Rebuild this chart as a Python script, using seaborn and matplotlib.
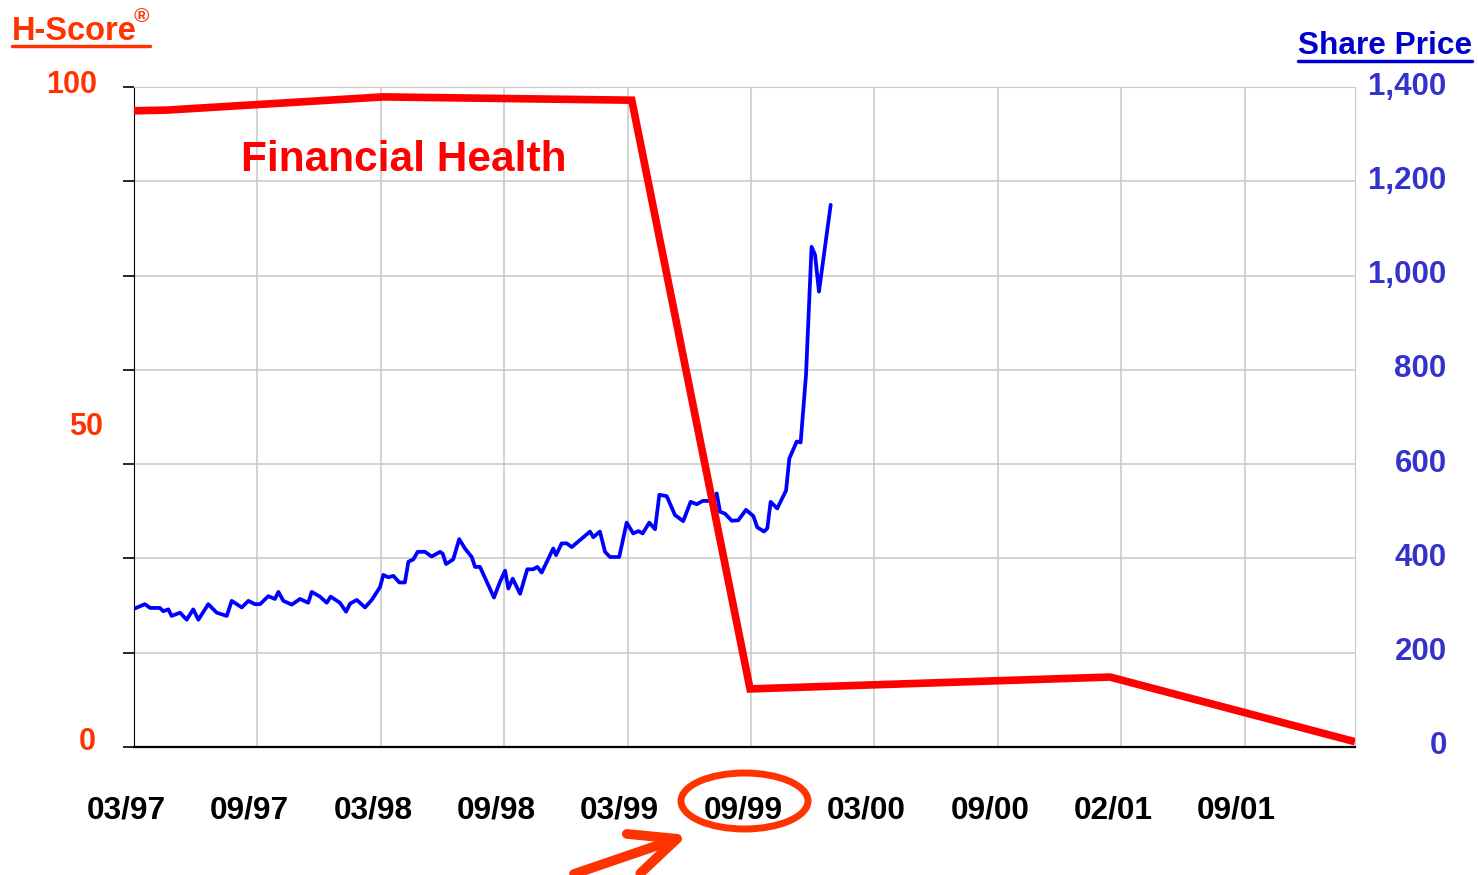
import matplotlib
matplotlib.use("Agg")
import matplotlib.pyplot as plt
import matplotlib.transforms as mtransforms
from matplotlib.patches import Ellipse, ArrowStyle
from matplotlib.lines import Line2D
import pandas as pd
import seaborn as sns

# x positions are months since 03/97 (chart axis is evenly spaced)
price_months = [
    0.05, 0.53, 0.78, 1.26, 1.42, 1.67, 1.83, 2.24, 2.56, 2.88, 3.13, 3.61, 4.02, 4.51,
    4.75, 5.24, 5.56, 5.88, 6.13, 6.53, 6.85, 7.02, 7.26, 7.67, 8.07, 8.47, 8.64, 9.04,
    9.37, 9.56, 10.01, 10.31, 10.50, 10.83, 11.23, 11.56, 11.96, 12.12, 12.36, 12.61,
    12.90, 13.17, 13.34, 13.58, 13.79, 14.15, 14.47, 14.88, 15.01, 15.17, 15.52, 15.81,
    16.09, 16.42, 16.58, 16.82, 17.22, 17.50, 17.79, 18.04, 18.20, 18.41, 18.77, 19.12,
    19.41, 19.61, 19.82, 20.38, 20.52, 20.79, 21.04, 21.28, 22.17, 22.33, 22.65, 22.90,
    23.14, 23.59, 23.95, 24.27, 24.52, 24.73, 25.05, 25.33, 25.54, 25.90, 26.30, 26.70,
    27.06, 27.36, 27.65, 28.16, 28.33, 28.49, 28.73, 29.06, 29.38, 29.75, 30.11, 30.30,
    30.63, 30.79, 30.95, 31.27, 31.70, 31.86, 32.22, 32.41, 32.67, 32.94, 33.11, 33.30,
    33.87,
]
price_values = [
    294, 303, 295, 295, 288, 292, 278, 285, 270, 292, 270, 303, 285, 278,
    310, 296, 310, 303, 303, 320, 314, 329, 310, 302, 314, 306, 329, 319,
    306, 319, 306, 287, 304, 312, 296, 312, 339, 365, 360, 363,
    349, 349, 393, 398, 414, 414, 404, 414, 410, 388, 398, 441,
    421, 403, 382, 382, 344, 317, 350, 374, 336, 357, 325, 377,
    377, 382, 370, 421, 407, 432, 432, 424, 457, 445, 457, 414,
    403, 403, 476, 453, 458, 453, 476, 462, 535, 532, 492, 479,
    520, 515, 522, 522, 538, 499, 495, 480, 481, 503, 490, 466,
    457, 464, 520, 506, 544, 612, 648, 646, 789, 1061, 1044, 966,
    1150,
]

hscore_months = [0.0, 1.6, 12.1, 24.2, 29.95, 47.45, 59.36]
hscore_values = [96.4, 96.5, 98.5, 98.0, 8.8, 10.6, 0.8]

date_ticks = [0, 6, 12, 18, 24, 30, 36, 42, 48, 54]
date_labels = ["03/97", "09/97", "03/98", "09/98", "03/99",
               "09/99", "03/00", "09/00", "02/01", "09/01"]
minor_date_ticks = [3, 9, 15, 21, 27, 33, 39, 45, 51, 57]

price_ticks = [0, 200, 400, 600, 800, 1000, 1200, 1400]
price_labels = ["0", "200", "400", "600", "800", "1,000", "1,200", "1,400"]
hscore_labels = ["100", "50", "0"]
hscore_label_pos = [100.3, 48.5, 0.8]
hscore_label_right = [97, 103, 96]  # right edge of each label, px

price_df = pd.DataFrame({"month": price_months, "price": price_values})
hscore_df = pd.DataFrame({"month": hscore_months, "hscore": hscore_values})

sns.set_style("white")
plt.rcParams["font.family"] = ["Liberation Sans", "DejaVu Sans"]
plt.rcParams["font.weight"] = "bold"

ORANGE = "#FF3300"
LABEL_BLUE = "#3333CC"
GRID = "#C8C8C8"

fig = plt.figure(figsize=(14.78, 8.75), dpi=100)
ax = fig.add_axes([134 / 1478, 1 - 747 / 875, (1355 - 134) / 1478, (747 - 87) / 875])
ax2 = ax.twinx()

# share price (drawn first, below the H-score line)
sns.lineplot(data=price_df, x="month", y="price", ax=ax, color="#0000FF",
             linewidth=2.7, estimator=None, sort=False)
ax.set_xlim(0, 59.36)
ax.set_ylim(0, 1400)
ax.yaxis.tick_right()
ax.set_yticks(price_ticks)
ax.set_yticklabels(price_labels, fontsize=22.5, color=LABEL_BLUE, fontweight="bold", ha="right")
ax.tick_params(axis="y", length=0, pad=66)
up = mtransforms.ScaledTranslation(0, 4 / 100, fig.dpi_scale_trans)
for lab in ax.get_yticklabels():
    lab.set_transform(lab.get_transform() + up)

ax.set_xticks(date_ticks)
ax.set_xticks(minor_date_ticks, minor=True)
ax.set_xticklabels(date_labels, fontsize=22.8, fontweight="bold", color="black")
ax.tick_params(axis="x", which="major", direction="out", length=11, width=1.2, pad=24, color="black")
ax.tick_params(axis="x", which="minor", direction="out", length=8, width=1.2, color="black")
left = mtransforms.ScaledTranslation(-8 / 100, 0, fig.dpi_scale_trans)
for lab in ax.get_xticklabels():
    lab.set_transform(lab.get_transform() + left)

ax.grid(True, which="major", color=GRID, linewidth=1.1)
ax.set_xlabel("")
ax.set_ylabel("")
ax.spines["left"].set_color("black")
ax.spines["bottom"].set_color("black")
ax.spines["bottom"].set_linewidth(1.6)
ax.spines["top"].set_color(GRID)
ax.spines["right"].set_color(GRID)

# H-Score line on top
sns.lineplot(data=hscore_df, x="month", y="hscore", ax=ax2,
             color="#FF0000", linewidth=5.5, estimator=None, sort=False,
             solid_capstyle="butt", solid_joinstyle="miter")
ax2.set_ylim(0, 100)
ax2.yaxis.tick_left()
ax2.set_yticks([v / 14 for v in price_ticks])
ax2.set_yticklabels([])
ax2.tick_params(axis="y", direction="out", length=8, width=1.2, color="black")
ax2.set_ylabel("")
ax2.set_xlabel("")
for side in ["top", "right", "left", "bottom"]:
    ax2.spines[side].set_visible(False)
for lab, pos, xr in zip(hscore_labels, hscore_label_pos, hscore_label_right):
    ax2.text((xr - 134) / (1355 - 134), pos, lab, transform=ax2.get_yaxis_transform(),
             ha="right", va="center", fontsize=22, fontweight="bold", color=ORANGE)

ax2.text(0.088, 0.89, "Financial Health", transform=ax2.transAxes, fontsize=30.5,
         fontweight="bold", color="#FF0000", ha="left", va="center")

# axis titles with underlines
fig.text(12 / 1478, 1 - 32 / 875, "H-Score", fontsize=23.5, fontweight="bold", color=ORANGE,
         ha="left", va="center")
fig.text(134 / 1478, 1 - 16 / 875, "\u00ae", fontsize=15, fontweight="bold", color=ORANGE,
         ha="left", va="center")
fig.add_artist(Line2D([12 / 1478, 150 / 1478], [1 - 46 / 875] * 2, color=ORANGE,
                      linewidth=2.5, transform=fig.transFigure))
fig.text(1472 / 1478, 1 - 46 / 875, "Share Price", fontsize=22.8, fontweight="bold",
         color="#0000CC", ha="right", va="center")
fig.add_artist(Line2D([1298 / 1478, 1472 / 1478], [1 - 61 / 875] * 2, color="#0000CC",
                      linewidth=2.5, transform=fig.transFigure))

# highlight around 09/99
fig.add_artist(Ellipse((744.5 / 1478, 1 - 801 / 875), 127 / 1478, 56 / 875, fill=False,
                       edgecolor=ORANGE, linewidth=5, transform=fig.transFigure))
ax.annotate("", xy=(688, 875 - 835), xycoords="figure pixels",
            xytext=(574, 875 - 874), textcoords="figure pixels",
            arrowprops=dict(arrowstyle=ArrowStyle("->", head_length=33, head_width=15),
                            mutation_scale=1, color=ORANGE, linewidth=7,
                            capstyle="round", joinstyle="round", shrinkA=0, shrinkB=0),
            annotation_clip=False)

fig.savefig("out.png", dpi=100)
